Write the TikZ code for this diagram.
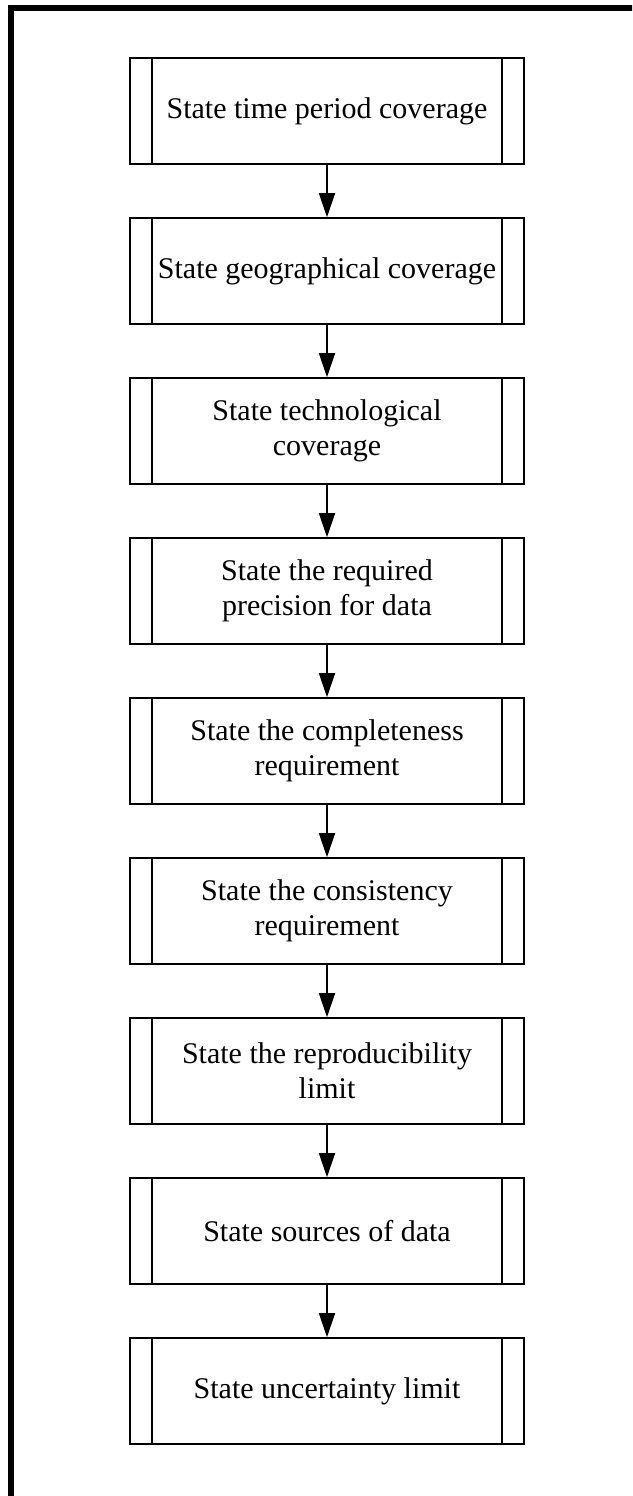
\documentclass[tikz,border=0pt]{standalone}
\usepackage{fontspec}
\setmainfont{Liberation Serif}
\usetikzlibrary{arrows.meta}
\begin{document}
\begin{tikzpicture}[x=1pt,y=-1pt,
  procbox/.style={draw, line width=1.6pt, minimum width=394pt, minimum height=106pt,
    inner sep=0pt, align=center, font=\fontsize{30pt}{35pt}\selectfont,
    path picture={
      \draw[line width=1.6pt] ([xshift=22pt]path picture bounding box.north west) -- ([xshift=22pt]path picture bounding box.south west);
      \draw[line width=1.6pt] ([xshift=-22pt]path picture bounding box.north east) -- ([xshift=-22pt]path picture bounding box.south east);
    }},
  flow/.style={line width=1.4pt, -{Triangle[length=24pt,width=16pt]}}]
\useasboundingbox (0,0) rectangle (632,1496);
\begin{scope}
  \clip (0,0) rectangle (632,1496);
  \draw[line width=5.5pt] (11,8) rectangle (660,1520);
\end{scope}
\node[procbox] (s1) at (327,111) {State time period coverage};
\node[procbox] (s2) at (327,271) {State geographical coverage};
\node[procbox] (s3) at (327,431) {State technological\\coverage};
\node[procbox] (s4) at (327,591) {State the required\\precision for data};
\node[procbox] (s5) at (327,751) {State the completeness\\requirement};
\node[procbox] (s6) at (327,911) {State the consistency\\requirement};
\node[procbox] (s7) at (327,1071) {State the reproducibility\\limit};
\node[procbox] (s8) at (327,1231) {State sources of data};
\node[procbox] (s9) at (327,1391) {State uncertainty limit};
\foreach \a/\b in {s1/s2,s2/s3,s3/s4,s4/s5,s5/s6,s6/s7,s7/s8,s8/s9}
  \draw[flow] (\a.south) -- (\b.north);
\end{tikzpicture}
\end{document}
